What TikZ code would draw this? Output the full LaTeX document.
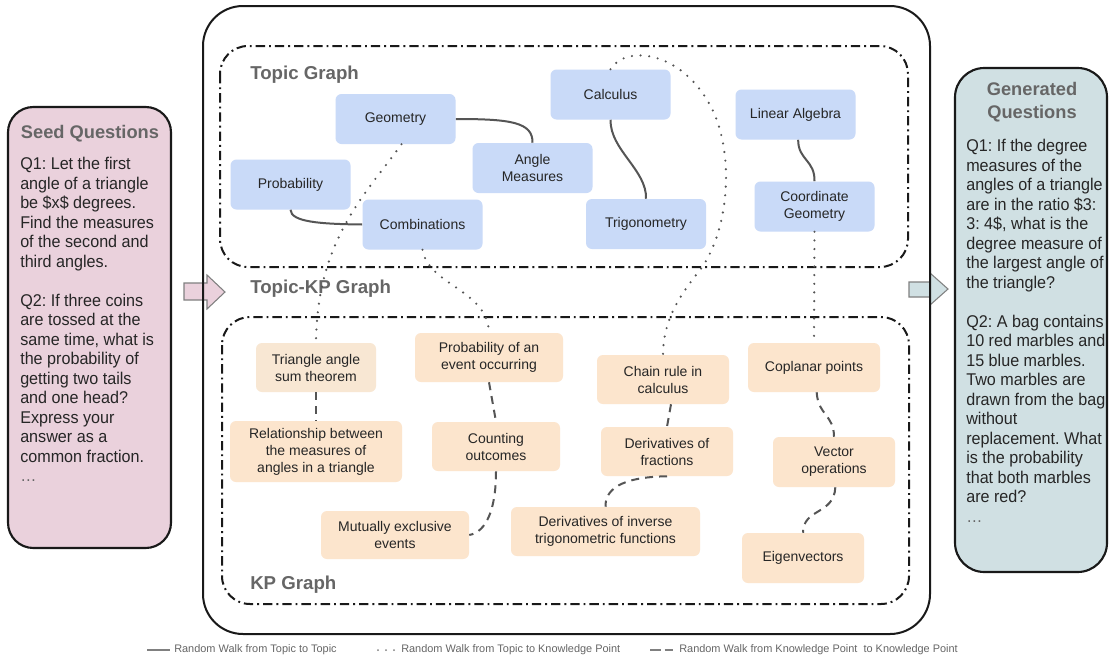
\documentclass[tikz,border=0pt]{standalone}
\usepackage{fontspec}
\setmainfont{Liberation Sans}
\newfontfamily\panelfam{Liberation Sans}[FakeStretch=0.95]
\usetikzlibrary{calc}
\definecolor{topicblue}{HTML}{C9DAF8}
\definecolor{kporange}{HTML}{FCE5CD}
\definecolor{kpbeige}{HTML}{F8E7D3}
\definecolor{seedpink}{HTML}{EAD1DC}
\definecolor{gencyan}{HTML}{D0E0E3}
\definecolor{titlegray}{HTML}{666666}
\definecolor{edgegray}{HTML}{555555}
\definecolor{txt}{HTML}{262626}
\definecolor{arrowline}{HTML}{808080}
\frenchspacing
\newcommand\myNodeFont{\fontsize{10.5pt}{12.75pt}\selectfont}
\newcommand\myPanelFont{\panelfam\fontsize{12.75pt}{14.625pt}\selectfont\frenchspacing}
\newcommand\myTitleFont{\fontsize{13.7pt}{17.25pt}\selectfont\bfseries}
\newcommand\myLabelFont{\fontsize{14pt}{16pt}\selectfont\bfseries}
\newcommand\myLegendFont{\fontsize{8.2pt}{9pt}\selectfont}
\tikzset{
  topicnode/.style={fill=topicblue, rounded corners=4.5pt, inner sep=0pt, align=center, text=txt, font=\myNodeFont, minimum width=90pt, minimum height=37.5pt},
  kpnode/.style={fill=kporange, rounded corners=4.5pt, inner sep=0pt, align=center, text=txt, font=\myNodeFont},
  solidwalk/.style={draw=edgegray, line width=1.5pt},
  dotwalk/.style={draw=edgegray, line width=1.8pt, line cap=round, dash pattern=on 0pt off 6.5pt},
  dashwalk/.style={draw=edgegray, line width=1.5pt, dash pattern=on 6pt off 4.5pt},
  graphbox/.style={draw=black!90, line width=1.5pt, dash pattern=on 7pt off 3pt on 1.4pt off 3pt, rounded corners=21pt},
  graphlabel/.style={font=\myLabelFont, text=titlegray, anchor=west, inner sep=0pt},
  paneltext/.style={font=\myPanelFont, text=txt, align=left, anchor=north west, inner sep=0pt},
  paneltitle/.style={font=\myTitleFont, text=titlegray, align=center, inner sep=0pt},
  panelbox/.style={draw=black!90, line width=1.6pt},
  legendtext/.style={font=\myLegendFont, text=titlegray, anchor=west, inner sep=0pt},
  legendline/.style={draw=gray, line width=1.5pt}
}
\begin{document}
\begin{tikzpicture}[x=0.75pt,y=-0.75pt]
\useasboundingbox (0,0) rectangle (1109,657);
\fill[white] (0,0) rectangle (1109,657);

% side panels
\draw[panelbox, fill=seedpink, rounded corners=19pt] (8,107) rectangle (171,548);
\draw[panelbox, fill=gencyan, rounded corners=22pt] (955,68) rectangle (1107,572);

% block arrows
\draw[fill=seedpink, draw=arrowline, line width=0.8pt] (184,283) -- (207,283) -- (207,275) -- (225,292) -- (207,309) -- (207,300) -- (184,300) -- cycle;
\draw[fill=gencyan, draw=arrowline, line width=0.8pt] (909,282) -- (930,282) -- (930,273) -- (948,289) -- (930,305) -- (930,297) -- (909,297) -- cycle;

% main box
\draw[line width=1.5pt, draw=black!90, rounded corners=30pt] (203,6) rectangle (930,634);

% graph boxes
\draw[graphbox] (220,46) rectangle (908,267);
\draw[graphbox] (222,317) rectangle (909,604);

\node[graphlabel] (tglabel) at (250,75) {Topic Graph};
\node[graphlabel] (tkplabel) at (250,289) {Topic-KP Graph};
\node[graphlabel] (kplabel) at (250,585) {KP Graph};

% panel texts
\node[paneltitle] (seedtitle) at (90,134) {Seed Questions};
\node[paneltext] (seedq) at (20,157) {Q1: Let the first\\angle of a triangle\\be \$x\$ degrees.\\Find the measures\\of the second and\\third angles.\\[14.625pt]Q2: If three coins\\are tossed at the\\same time, what is\\the probability of\\getting two tails\\and one head?\\Express your\\answer as a\\common fraction.\\\textcolor{titlegray}{\ldots}};
\node[paneltitle] (gentitle) at (1032,102) {Generated\\Questions};
\node[paneltext] (genq) at (966,139) {Q1: If the degree\\measures of the\\angles of a triangle\\are in the ratio \$3:\\3: 4\$, what is the\\degree measure of\\the largest angle of\\the triangle?\\[14.625pt]Q2: A bag contains\\10 red marbles and\\15 blue marbles.\\Two marbles are\\drawn from the bag\\without\\replacement. What\\is the probability\\that both marbles\\are red?\\\textcolor{titlegray}{\ldots}};

% topic nodes
\node[topicnode] (geo) at (395.5,119) {Geometry};
\node[topicnode] (calc) at (610.5,94.5) {Calculus};
\node[topicnode] (lin) at (795.5,114.5) {Linear Algebra};
\node[topicnode] (prob) at (290.5,184.5) {Probability};
\node[topicnode] (ang) at (532.5,168) {Angle\\Measures};
\node[topicnode] (comb) at (422.5,224.5) {Combinations};
\node[topicnode] (trig) at (646,224) {Trigonometry};
\node[topicnode] (coord) at (814.5,206.5) {Coordinate\\Geometry};

% KP nodes
\node[kpnode, fill=kpbeige, minimum width=90pt, minimum height=36.75pt] (tri) at (316,367.5) {Triangle angle\\sum theorem};
\node[kpnode, minimum width=111pt, minimum height=36.75pt] (pev) at (489,357.5) {Probability of an\\event occurring};
\node[kpnode, minimum width=99pt, minimum height=36.75pt] (chain) at (663,379.5) {Chain rule in\\calculus};
\node[kpnode, minimum width=99pt, minimum height=36.75pt] (copl) at (814,367.5) {Coplanar points};
\node[kpnode, minimum width=129pt, minimum height=45.75pt] (rel) at (316,451.5) {Relationship between\\the measures of\\angles in a triangle};
\node[kpnode, minimum width=96pt, minimum height=36.75pt] (count) at (496,446.5) {Counting\\outcomes};
\node[kpnode, minimum width=99pt, minimum height=36.75pt] (dfrac) at (667,451.5) {Derivatives of\\fractions};
\node[kpnode, minimum width=91.5pt, minimum height=37.5pt] (vec) at (834,462) {Vector\\operations};
\node[kpnode, minimum width=111pt, minimum height=36pt] (mutual) at (395,535) {Mutually exclusive\\events};
\node[kpnode, minimum width=141.75pt, minimum height=36.75pt] (dinv) at (605.5,531.5) {Derivatives of inverse\\trigonometric functions};
\node[kpnode, minimum width=91.5pt, minimum height=37.5pt] (eigen) at (803,558) {Eigenvectors};

% topic-topic walks
\draw[solidwalk] (geo.east) .. controls (510,119) and (533,122) .. (ang.north);
\draw[solidwalk] (prob.south) .. controls (291,222) and (320,224) .. (comb.west);
\draw[solidwalk] (calc.south) .. controls (610,150) and (647,170) .. (trig.north);
\draw[solidwalk] ([xshift=2pt]lin.south) .. controls (798,160) and (815,160) .. (coord.north);

% topic-KP walks
\draw[dotwalk] ([xshift=4.5pt]geo.south) .. controls (365,195) and (317,240) .. (tri.north);
\draw[dotwalk] (comb.south) .. controls (428,285) and (488,290) .. (pev.north);
\draw[dotwalk] (calc.north) .. controls (625,45) and (680,50) .. (710,105) .. controls (735,150) and (730,230) .. (700,270) .. controls (680,295) and (663,320) .. (chain.north);
\draw[dotwalk] (coord.south) -- (copl.north);

% KP-KP walks
\draw[dashwalk] (tri.south) -- (rel.north);
\draw[dashwalk] (pev.south) -- (count.north);
\draw[dashwalk] (count.south) .. controls (496,510) and (486,532) .. (mutual.east);
\draw[dashwalk] ([xshift=6pt]chain.south) -- (dfrac.north);
\draw[dashwalk] (dfrac.south) .. controls (620,477) and (605,490) .. (dinv.north);
\draw[dashwalk] ([xshift=2pt]copl.south) .. controls (818,415) and (834,415) .. (vec.north);
\draw[dashwalk] ([xshift=1pt]vec.south) .. controls (834,515) and (803,508) .. (eigen.north);

% legend
\coordinate (l1a) at (147,650);
\coordinate (l1b) at (170,650);
\coordinate (l2a) at (378,650);
\coordinate (l2b) at (395,650);
\coordinate (l3a) at (650,650);
\coordinate (l3b) at (673,650);
\draw[legendline] (l1a) -- (l1b);
\draw[legendline, line cap=round, dash pattern=on 0pt off 6pt] (l2a) -- (l2b);
\draw[legendline, dash pattern=on 8pt off 3pt] (l3a) -- (l3b);
\node[legendtext] (lt1) at (174,650) {Random Walk from Topic to Topic};
\node[legendtext] (lt2) at (401,650) {Random Walk from Topic to Knowledge Point};
\node[legendtext] (lt3) at (679,650) {Random Walk from Knowledge Point\ \ to Knowledge Point};
\end{tikzpicture}
\end{document}
